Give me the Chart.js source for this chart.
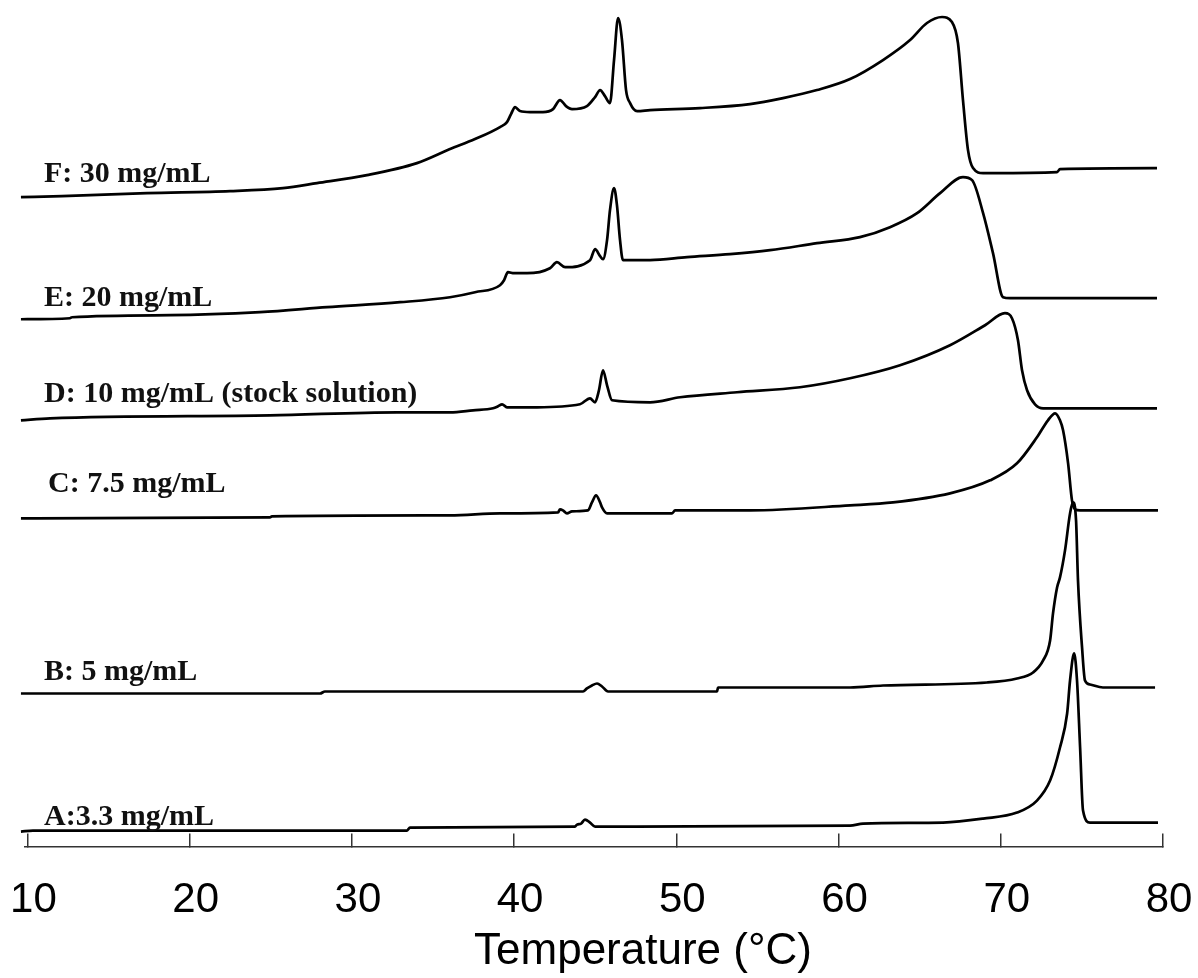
<!DOCTYPE html>
<html><head><meta charset="utf-8">
<script src="https://cdn.jsdelivr.net/npm/chart.js@4.4.1/dist/chart.umd.min.js"></script>
<style>html,body{margin:0;padding:0;background:#fff;}canvas{display:block;}</style>
</head><body>
<canvas id="c" width="1198" height="978"></canvas>
<script>
// x-axis ticks (°C)
const xTicks = [10, 20, 30, 40, 50, 60, 70, 80];
const axisTitle = 'Temperature (°C)';
const seriesNames = ['A:3.3 mg/mL', 'B: 5 mg/mL', 'C: 7.5 mg/mL', 'D: 10 mg/mL (stock solution)', 'E: 20 mg/mL', 'F: 30 mg/mL'];

// temperature (°C) and vertically offset heat flow (a.u.)
const tA = [9.60,10.34,33.40,33.58,43.75,43.88,44.13,44.37,44.68,44.99,60.71,61.51,66.44,68.91,71.00,72.23,73.04,73.65,74.09,74.27,74.52,74.70,74.89,75.07,75.50,79.69];
const yA = [15,16,16,19,20,22,23,27,24,20,21,23,24,28,34,46,66,99,133,166,193,166,99,36,24,24];

const tB = [9.60,28.04,28.34,44.25,44.49,44.80,45.11,45.42,45.79,52.51,52.57,60.71,62.74,69.15,71.00,71.99,72.61,73.04,73.22,73.47,73.65,73.96,74.27,74.45,74.64,74.76,75.01,75.19,75.50,76.30,79.51];
const yB = [153,153,155,155,158,161,163,160,155,155,159,159,161,164,168,174,186,206,233,259,269,296,333,344,326,266,199,166,162,159,159];

const tC = [9.60,24.95,25.07,36.05,39.13,42.71,42.83,43.01,43.26,43.57,44.55,44.80,45.05,45.30,45.42,45.73,49.74,49.92,54.54,60.71,63.36,66.87,69.34,71.00,72.23,72.91,73.35,73.65,73.84,74.15,74.39,74.58,74.89,79.69];
const yC = [328,329,330,331,333,334,337,336,333,335,336,344,351,344,339,333,333,336,336,341,344,353,366,383,409,426,433,426,416,383,346,337,336,336];

const tD = [9.60,11.39,24.95,32.78,36.05,37.47,38.70,39.01,39.26,39.56,41.41,44.06,44.68,44.99,45.23,45.48,45.73,46.04,48.38,50.23,53.74,57.62,60.71,63.79,66.87,69.03,70.26,70.69,71.06,71.31,71.62,72.11,72.61,79.63];
const yD = [426,428,431,434,434,436,438,440,442,439,439,442,448,444,456,476,461,446,444,449,454,459,468,481,501,521,533,528,506,476,456,442,438,438];

const tE = [9.60,12.62,12.75,18.79,24.34,28.47,32.97,36.05,37.59,39.13,39.38,39.62,40.00,40.80,42.21,42.64,43.14,44.68,44.99,45.30,45.48,45.73,45.91,46.16,46.34,46.53,46.71,48.38,50.66,53.31,55.78,58.67,61.32,63.17,64.84,66.26,67.67,68.23,68.91,69.52,70.14,70.57,79.63];
const yE = [527,528,529,531,534,539,544,549,554,561,566,574,573,573,578,584,579,586,597,590,587,606,636,658,641,606,586,586,589,592,596,603,609,619,633,653,669,666,633,593,549,548,548];

const tF = [9.60,12.13,17.37,22.49,25.75,27.85,30.93,34.01,36.05,37.59,39.13,39.56,39.81,40.06,40.36,40.98,41.78,42.40,42.83,43.20,43.57,44.49,44.99,45.30,45.60,45.91,46.16,46.41,46.65,46.90,47.15,47.58,48.38,51.46,54.54,56.58,58.67,60.71,62.74,64.41,65.45,66.38,66.99,67.36,67.67,67.98,68.29,68.91,69.52,73.47,73.65,79.63];
const yF = [649,650,653,655,658,663,671,683,697,707,719,724,732,739,735,734,734,737,746,740,737,740,749,756,750,743,786,828,806,756,743,735,736,738,742,748,756,767,786,806,823,829,824,803,746,696,678,673,673,674,677,678];

// label anchors (temperature, signal) for the curve names
const labelT = [11.02, 11.02, 11.27, 11.02, 11.02, 11.02];
const labelY = [22, 166, 354, 444, 540, 664];

const temps = [tA, tB, tC, tD, tE, tF];
const sigs = [yA, yB, yC, yD, yE, yF];

const datasets = temps.map((t, i) => ({
  label: seriesNames[i],
  data: t.map((x, j) => ({x: x, y: sigs[i][j]})),
  borderColor: '#000',
  borderWidth: 2.7,
  pointRadius: 0,
  fill: false,
  cubicInterpolationMode: 'monotone',
  clip: false
}));

const curveLabels = {
  id: 'curveLabels',
  afterDatasetsDraw(chart) {
    const ctx = chart.ctx, xs = chart.scales.x, ys = chart.scales.y;
    ctx.save();
    ctx.fillStyle = '#111';
    ctx.font = 'bold 30px "Liberation Serif", "Times New Roman", serif';
    ctx.textAlign = 'left';
    ctx.textBaseline = 'alphabetic';
    seriesNames.forEach((n, i) => {
      ctx.fillText(n, xs.getPixelForValue(labelT[i]), ys.getPixelForValue(labelY[i]));
    });
    ctx.restore();
  }
};

const axisTitlePlugin = {
  id: 'axisTitle',
  afterDraw(chart) {
    const ctx = chart.ctx, xs = chart.scales.x;
    ctx.save();
    ctx.fillStyle = '#000';
    ctx.font = '44px "Liberation Sans", Arial, sans-serif';
    ctx.textAlign = 'center';
    ctx.textBaseline = 'middle';
    ctx.fillText(axisTitle, (xs.left + xs.right) / 2 + 49, chart.height - 26);
    ctx.restore();
  }
};

new Chart(document.getElementById('c'), {
  type: 'line',
  data: {datasets: datasets},
  options: {
    responsive: false,
    animation: false,
    events: [],
    layout: {padding: {left: 25, right: 35, top: 0, bottom: 10}},
    plugins: {legend: {display: false}, tooltip: {enabled: false}},
    scales: {
      x: {
        type: 'linear',
        min: 9.85,
        max: 80,
        afterBuildTicks: (s) => { s.ticks = xTicks.map(v => ({value: v})); },
        afterFit: (s) => { s.paddingLeft = 0; s.paddingRight = 0; },
        grid: {display: true, drawOnChartArea: false, drawTicks: true, tickLength: -13, color: '#333', lineWidth: 1.5},
        border: {display: true, color: '#333', width: 1.5},
        ticks: {
          font: {family: '"Liberation Sans", Arial, sans-serif', size: 42},
          color: '#000',
          padding: 42,
          labelOffset: 6,
          maxRotation: 0,
          autoSkip: false,
          callback: (v) => String(v)
        },
        title: {display: false}
      },
      y: {type: 'linear', min: 0, max: 846, display: false}
    }
  },
  plugins: [curveLabels, axisTitlePlugin]
});
</script>
</body></html>
